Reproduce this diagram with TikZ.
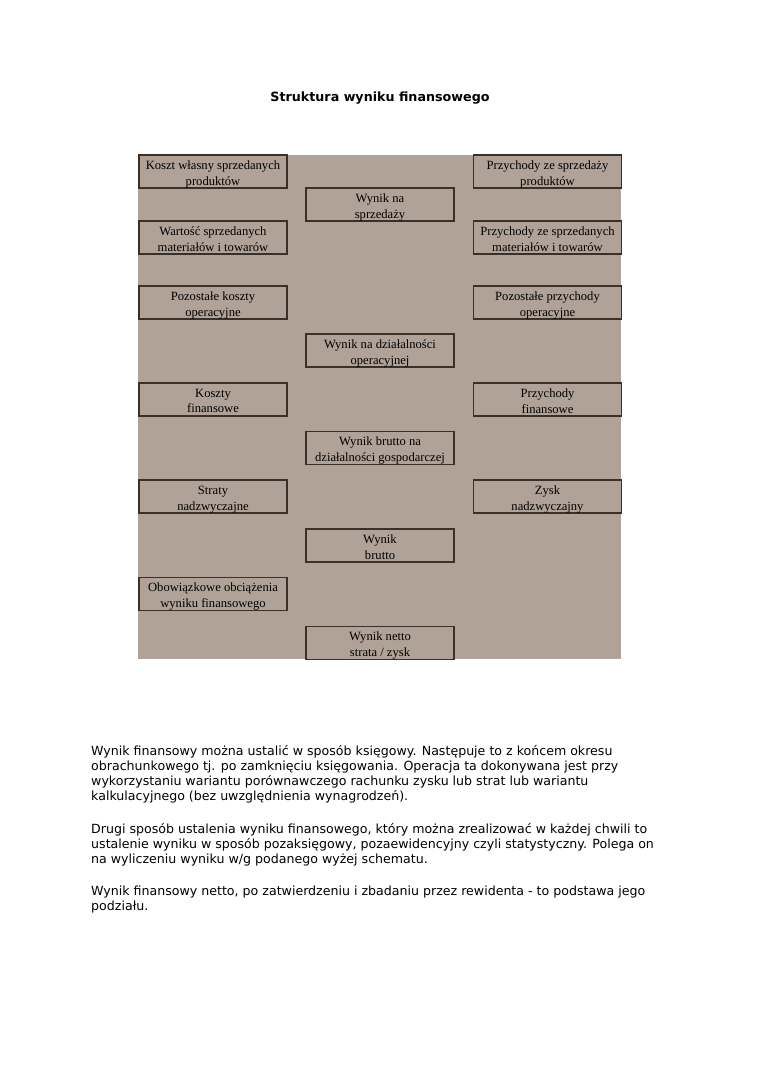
\documentclass[tikz,border=0pt]{standalone}
\usepackage{fontspec}
\setmainfont{DejaVu Sans}
\newfontfamily\boxfont{Liberation Serif}
\definecolor{bgbrown}{RGB}{176,162,150}
\definecolor{boxline}{RGB}{58,48,42}
\newcommand\cellnode[3]{\node[cell] (#1) at (#2) {}; \node[celltext] (#1t) at ([yshift=-3.8pt]#1.center) {#3};}
\begin{document}
\begin{tikzpicture}[x=1pt,y=-1pt,
  cell/.style={draw=boxline,line width=1.1pt,fill=bgbrown,minimum width=148pt,minimum height=33pt,inner sep=0pt},
  celltext/.style={inner sep=0pt,align=center,font=\boxfont\fontsize{12.6}{15.8}\selectfont,execute at begin node=\strut,execute at end node=\strut},
  para/.style={anchor=north west,align=left,inner sep=0pt,font=\fontsize{12.6}{15}\selectfont}]
\useasboundingbox (0,0) rectangle (760,1075);
\node[font=\bfseries\fontsize{12.7}{14}\selectfont] (title) at (380,98) {Struktura wyniku finansowego};
\fill[bgbrown] (138,155) rectangle (621,659);
% left column
\cellnode{l1}{213,171.5}{Koszt własny sprzedanych\\produktów}
\cellnode{l2}{213,237.5}{Wartość sprzedanych\\materiałów i towarów}
\cellnode{l3}{213,302.5}{Pozostałe koszty\\operacyjne}
\cellnode{l4}{213,399.5}{Koszty\\finansowe}
\cellnode{l5}{213,496.5}{Straty\\nadzwyczajne}
\cellnode{l6}{213,594}{Obowiązkowe obciążenia\\wyniku finansowego}
% right column
\cellnode{r1}{547.5,171.5}{Przychody ze sprzedaży\\produktów}
\cellnode{r2}{547.5,237.5}{Przychody ze sprzedanych\\materiałów i towarów}
\cellnode{r3}{547.5,302.5}{Pozostałe przychody\\operacyjne}
\cellnode{r4}{547.5,399.5}{Przychody\\finansowe}
\cellnode{r5}{547.5,496.5}{Zysk\\nadzwyczajny}
% center column
\cellnode{c1}{380,204.5}{Wynik na\\sprzedaży}
\cellnode{c2}{380,350.5}{Wynik na działalności\\operacyjnej}
\cellnode{c3}{380,448}{Wynik brutto na\\działalności gospodarczej}
\cellnode{c4}{380,545.5}{Wynik\\brutto}
\cellnode{c5}{380,643}{Wynik netto\\strata / zysk}
% paragraphs
\node[para] (p1) at (91,745) {Wynik finansowy można ustalić w sposób księgowy. Następuje to z końcem okresu\\obrachunkowego tj. po zamknięciu księgowania. Operacja ta dokonywana jest przy\\wykorzystaniu wariantu porównawczego rachunku zysku lub strat lub wariantu\\kalkulacyjnego (bez uwzględnienia wynagrodzeń).};
\node[para] (p2) at (91,823) {Drugi sposób ustalenia wyniku finansowego, który można zrealizować w każdej chwili to\\ustalenie wyniku w sposób pozaksięgowy, pozaewidencyjny czyli statystyczny. Polega on\\na wyliczeniu wyniku w/g podanego wyżej schematu.};
\node[para] (p3) at (91,885.5) {Wynik finansowy netto, po zatwierdzeniu i zbadaniu przez rewidenta - to podstawa jego\\podziału.};
\end{tikzpicture}
\end{document}
